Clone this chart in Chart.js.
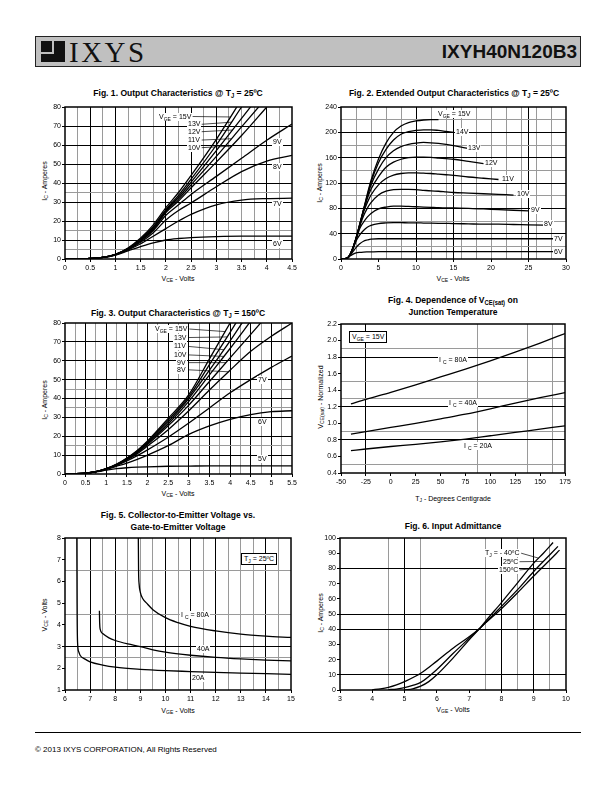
<!DOCTYPE html>
<html>
<head>
<meta charset="utf-8">
<script src="https://cdn.jsdelivr.net/npm/chart.js@4.4.1/dist/chart.umd.min.js"></script>
<style>
  html, body { margin: 0; padding: 0; background: #fff; }
  body { width: 612px; height: 792px; position: relative; overflow: hidden;
         font-family: 'Liberation Sans', Arial, sans-serif; color: #000; }
  .hdr { position: absolute; left: 35px; top: 36px; width: 544px; height: 29px;
         background: #c0c0c0; border: 1.5px solid #222; }
  .mark { position: absolute; left: 5px; top: 4px; width: 24px; height: 21px; background: #111; }
  .mark i { position: absolute; background: #c0c0c0; }
  .brand { position: absolute; left: 33px; top: 0px; font-family: 'Liberation Serif', 'DejaVu Serif', serif;
           font-size: 29px; line-height: 30px; letter-spacing: 2.5px; color: #111; }
  .part { position: absolute; right: 3px; top: 0; font-weight: bold; font-size: 19px; line-height: 30px; color: #111; }
  .ftitle { position: absolute; font-weight: bold; font-size: 9.5px; line-height: 12px; text-align: center;
            white-space: nowrap; transform: translateX(-50%) scaleX(0.9); }
  .atitle { position: absolute; font-size: 7px; white-space: nowrap; transform: translate(-50%, -50%); }
  .atitle.rot { transform: translate(-50%, -50%) rotate(-90deg); }
  sub { font-size: 5px; vertical-align: -1.5px; line-height: 0; }
  .ftitle sub { font-size: 6.5px; }
  .chart { position: absolute; }
  .chart canvas { position: absolute; left: 0; top: 0; }
  .note { position: absolute; font-size: 7px; line-height: 8px; white-space: nowrap; background: #fff; padding: 0 1px; color: #000; }
  .note.box { border: 1px solid #000; padding: 1px 2px; }
  .foot-line { position: absolute; left: 35px; top: 732px; width: 546px; height: 1px; background: #000; }
  .foot { position: absolute; left: 35px; top: 745px; font-size: 8px; white-space: nowrap; }
</style>
</head>
<body>

<div class="hdr">
  <div class="mark"><i style="left:0;top:11px;width:11px;height:2px"></i><i style="left:11px;top:0;width:2px;height:13px"></i></div>
  <div class="brand">IXYS</div>
  <div class="part">IXYH40N120B3</div>
</div>

<div class="ftitle" style="left:178px;top:87px">Fig. 1. Output Characteristics @ T<sub>J</sub> = 25ºC</div>
<div class="ftitle" style="left:454px;top:87px">Fig. 2. Extended Output Characteristics @ T<sub>J</sub> = 25ºC</div>
<div class="ftitle" style="left:178px;top:307px">Fig. 3. Output Characteristics @ T<sub>J</sub> = 150ºC</div>
<div class="ftitle" style="left:453px;top:294px">Fig. 4. Dependence of V<sub>CE(sat)</sub> on<br>Junction Temperature</div>
<div class="ftitle" style="left:178px;top:509px">Fig. 5. Collector-to-Emitter Voltage vs.<br>Gate-to-Emitter Voltage</div>
<div class="ftitle" style="left:453px;top:520px">Fig. 6. Input Admittance</div>

<div class="atitle" style="left:178px;top:278px">V<sub>CE</sub> - Volts</div>
<div class="atitle rot" style="left:44px;top:181px">I<sub>C</sub> - Amperes</div>
<div class="atitle" style="left:453px;top:278px">V<sub>CE</sub> - Volts</div>
<div class="atitle rot" style="left:319px;top:183px">I<sub>C</sub> - Amperes</div>
<div class="atitle" style="left:178px;top:493px">V<sub>CE</sub> - Volts</div>
<div class="atitle rot" style="left:44px;top:400px">I<sub>C</sub> - Amperes</div>
<div class="atitle" style="left:453px;top:498px">T<sub>J</sub> - Degrees Centigrade</div>
<div class="atitle rot" style="left:320px;top:397px">V<sub>CE(sat)</sub> - Normalized</div>
<div class="atitle" style="left:178px;top:710px">V<sub>GE</sub> - Volts</div>
<div class="atitle rot" style="left:44px;top:615px">V<sub>CE</sub> - Volts</div>
<div class="atitle" style="left:453px;top:709px">V<sub>GE</sub> - Volts</div>
<div class="atitle rot" style="left:320px;top:613px">I<sub>C</sub> - Amperes</div>

<div class="foot-line"></div>
<div class="foot">© 2013 IXYS CORPORATION, All Rights Reserved</div>

<script>
// ── Fig. 1 data: Output characteristics @ 25ºC ──
const fig1Vce = [0, 0.5, 0.75, 1, 1.25, 1.5, 1.75, 2, 2.25, 2.5, 3, 3.5, 4, 4.5];
const fig1Ic15 = [0, 0.3, 0.8, 2.4, 5.8, 11, 18, 27, 35, 44, 63, 84, null, null];
const fig1Ic13 = [0, 0.3, 0.8, 2.4, 5.6, 10.5, 17, 26, 33.5, 42, 60, 80, 100, null];
const fig1Ic12 = [0, 0.3, 0.8, 2.4, 5.5, 10.2, 16.5, 25.5, 32.5, 40.5, 57, 74, 91, null];
const fig1Ic11 = [0, 0.3, 0.8, 2.3, 5.4, 10, 16, 25, 31.5, 39, 54, 69.5, 85, null];
const fig1Ic10 = [0, 0.3, 0.8, 2.3, 5.3, 9.7, 15.5, 24.5, 30.5, 37.5, 51, 65, 80, null];
const fig1Ic9 = [0, 0.3, 0.8, 2.3, 5.2, 9.3, 15, 23, 28.5, 34, 43.5, 53, 62.5, 71];
const fig1Ic8 = [0, 0.3, 0.8, 2.2, 5, 8.8, 13.8, 20.5, 25.5, 29.5, 38, 46, 51.5, 54.5];
const fig1Ic7 = [0, 0.3, 0.8, 2.2, 4.8, 8, 12, 16, 20, 23.5, 28.5, 31, 31.8, 32];
const fig1Ic6 = [0, 0.3, 0.8, 2.1, 4.3, 6.5, 8.5, 10, 10.8, 11.3, 11.8, 12, 12, 12];
const fig1XTicks = [0, 0.5, 1, 1.5, 2, 2.5, 3, 3.5, 4, 4.5];
const fig1YTicks = [0, 10, 20, 30, 40, 50, 60, 70, 80];

// ── Fig. 2 data: Extended output characteristics @ 25ºC ──
const fig2Vce = [0, 0.5, 1, 1.5, 2, 2.5, 3, 3.5, 4, 5, 6, 7, 8, 9, 10, 11, 12, 13, 14, 15, 17, 19, 21, 23, 25, 27, 28.5];
const fig2Ic15 = [0, 0.5, 3, 15, 33, 55, 78, 102, 124, 158, 183, 200, 210, 215.5, 218, 219.5, 220, 220, null, null, null, null, null, null, null, null, null];
const fig2Ic14 = [0, 0.5, 3, 15, 33, 55, 77.5, 100, 121, 152, 173, 188, 197, 201, 203, 204, 204, 203, 201.5, 200, null, null, null, null, null, null, null];
const fig2Ic13 = [0, 0.5, 3, 15, 32.5, 54, 77, 98, 117, 142, 160, 171, 177.5, 181, 183, 184, 183.5, 182.5, 181, 179, 174.5, null, null, null, null, null, null];
const fig2Ic12 = [0, 0.5, 3, 14.5, 32, 53.5, 76, 95, 110, 130, 145, 153, 157.5, 160, 161, 161, 160.5, 159.5, 158.5, 157.5, 154, 150.5, null, null, null, null, null];
const fig2Ic11 = [0, 0.5, 3, 14.5, 31.5, 53, 74, 89, 101, 117, 127, 132.5, 135, 136, 136, 135.5, 135, 134, 133, 132, 129.5, 127.5, 125.5, null, null, null, null];
const fig2Ic10 = [0, 0.5, 3, 14, 31, 52, 68, 80, 89, 101, 107, 109.5, 110, 110, 109.5, 108.5, 107.5, 107, 106, 105, 104, 103, 102, 101, null, null, null];
const fig2Ic9 = [0, 0.5, 3, 13.5, 30, 48, 58, 66, 72, 79, 82, 83.5, 83.5, 83, 82.5, 82, 81.5, 81, 80.8, 80.5, 80, 79, 78, 77, 76, null, null];
const fig2Ic8 = [0, 0.5, 3, 12.5, 28, 38, 45, 50, 53, 56, 57, 57.5, 57.5, 57, 57, 56.8, 56.6, 56.4, 56.2, 56, 55.5, 55, 55, 54.5, 54, 53.5, null];
const fig2Ic7 = [0, 0.5, 3, 10, 18, 24, 28, 30, 31.5, 32, 32, 32, 32, 32, 32, 32, 32, 32, 32, 32, 32, 32, 32, 32, 32, 32, 32];
const fig2Ic6 = [0, 0.5, 3, 7, 9.5, 10.5, 11, 11.2, 11.3, 11.5, 11.5, 11.5, 11.5, 11.5, 11.5, 11.5, 11.5, 11.5, 11.5, 11.5, 11.5, 11.5, 11.5, 11.5, 11.5, 11.5, 11.5];
const fig2XTicks = [0, 5, 10, 15, 20, 25, 30];
const fig2YTicks = [0, 40, 80, 120, 160, 200, 240];

// ── Fig. 3 data: Output characteristics @ 150ºC ──
const fig3Vce = [0, 0.5, 0.75, 1, 1.25, 1.5, 1.75, 2, 2.5, 3, 3.5, 4, 4.5, 5, 5.5];
const fig3Ic15 = [0, 0.4, 1.2, 2.8, 5.2, 8.5, 12.5, 17.5, 29.5, 42, 61, 80, null, null, null];
const fig3Ic13 = [0, 0.4, 1.2, 2.8, 5.1, 8.3, 12.2, 17, 28.5, 41, 58, 75, 93, null, null];
const fig3Ic11 = [0, 0.4, 1.2, 2.8, 5, 8.1, 11.9, 16.6, 27.5, 40, 55, 70.5, 87, null, null];
const fig3Ic10 = [0, 0.4, 1.2, 2.7, 4.9, 7.9, 11.6, 16.2, 26.5, 38.5, 52.5, 66.5, 81, null, null];
const fig3Ic9 = [0, 0.4, 1.2, 2.7, 4.8, 7.7, 11.2, 15.6, 25.5, 36.5, 49, 61.5, 74, 86.5, null];
const fig3Ic8 = [0, 0.4, 1.2, 2.7, 4.7, 7.4, 10.7, 14.8, 23.5, 33.5, 44.5, 55, 65, 73, 80];
const fig3Ic7 = [0, 0.4, 1.2, 2.6, 4.5, 6.9, 9.7, 12.8, 19.5, 27, 35, 43, 50, 56.5, 62.5];
const fig3Ic6 = [0, 0.4, 1.2, 2.5, 4.1, 5.8, 7.8, 10, 15, 21, 25.5, 29, 31.5, 33, 33.5];
const fig3Ic5 = [0, 0.4, 1.1, 2, 2.8, 3.3, 3.6, 3.8, 4.1, 4.2, 4.3, 4.3, 4.3, 4.3, 4.3];
const fig3XTicks = [0, 0.5, 1, 1.5, 2, 2.5, 3, 3.5, 4, 4.5, 5, 5.5];
const fig3YTicks = [0, 10, 20, 30, 40, 50, 60, 70, 80];

// ── Fig. 4 data: VCE(sat) normalized vs junction temperature ──
const fig4Tj = [-40, -25, 0, 25, 50, 75, 100, 125, 150, 175];
const fig4Vce80 = [1.235, 1.29, 1.375, 1.465, 1.56, 1.655, 1.755, 1.86, 1.97, 2.085];
const fig4Vce40 = [0.87, 0.9, 0.95, 1.0, 1.055, 1.11, 1.175, 1.245, 1.31, 1.37];
const fig4Vce20 = [0.67, 0.69, 0.72, 0.745, 0.775, 0.81, 0.85, 0.89, 0.93, 0.97];
const fig4XTicks = [-50, -25, 0, 25, 50, 75, 100, 125, 150, 175];
const fig4YTicks = [0.4, 0.6, 0.8, 1.0, 1.2, 1.4, 1.6, 1.8, 2.0, 2.2];

// ── Fig. 5 data: VCE vs VGE @ 25ºC ──
const fig5Vge80 = [8.92, 8.93, 8.95, 9.0, 9.1, 9.25, 9.5, 10, 10.5, 11, 12, 13, 14, 15];
const fig5Vce80 = [8, 6.5, 5.9, 5.5, 5.2, 5.0, 4.7, 4.33, 4.1, 3.93, 3.72, 3.57, 3.48, 3.42];
const fig5Vge40 = [7.37, 7.38, 7.4, 7.5, 7.75, 8, 8.5, 9, 9.5, 10, 11, 12, 13, 14, 15];
const fig5Vce40 = [4.65, 4.1, 3.8, 3.6, 3.4, 3.28, 3.12, 3.0, 2.85, 2.74, 2.6, 2.5, 2.43, 2.38, 2.34];
const fig5Vge20 = [6.47, 6.48, 6.5, 6.55, 6.6, 6.8, 7, 7.5, 8, 9, 10, 11, 12, 13, 14, 15];
const fig5Vce20 = [8, 5, 3.2, 2.75, 2.6, 2.42, 2.3, 2.15, 2.05, 1.95, 1.89, 1.85, 1.81, 1.78, 1.75, 1.72];
const fig5XTicks = [6, 7, 8, 9, 10, 11, 12, 13, 14, 15];
const fig5YTicks = [1, 2, 3, 4, 5, 6, 7, 8];

// ── Fig. 6 data: Input admittance ──
const fig6VgeM40 = [5, 5.25, 5.5, 5.75, 6, 6.5, 7, 7.35, 7.5, 8, 8.5, 9, 9.3, 9.6];
const fig6IcM40 = [0, 0.8, 2.5, 5.5, 10, 21, 33, 41, 45, 57.5, 70.5, 83.5, 90, 97];
const fig6Vge25 = [4.5, 4.75, 5, 5.25, 5.5, 6, 6.5, 7, 7.35, 7.5, 8, 8.5, 9, 9.5, 9.75];
const fig6Ic25 = [0.2, 0.6, 1.5, 3, 5, 13.5, 24, 34, 41, 44, 55, 66, 78, 89, 94.5];
const fig6Vge150 = [4, 4.25, 4.5, 4.75, 5, 5.5, 6, 6.5, 7, 7.35, 7.5, 8, 8.5, 9, 9.5, 9.8];
const fig6Ic150 = [0.3, 0.8, 1.7, 3.3, 5.5, 11, 19, 27.5, 35, 41, 44, 53.5, 64, 75, 85.5, 92];
const fig6XTicks = [3, 4, 5, 6, 7, 8, 9, 10];
const fig6YTicks = [0, 10, 20, 30, 40, 50, 60, 70, 80, 90, 100];

// ── Helpers ──
const FONT = { family: "'Liberation Sans', Arial, sans-serif", size: 7 };
const near = (arr, v) => arr.some(u => Math.abs(u - v) < 1e-6);
const pts = (xs, ys) => xs.map((x, i) => ({ x, y: ys[i] })).filter(p => p.y !== null);

function interp(data, x) {
  for (let i = 1; i < data.length; i++) {
    const a = data[i - 1], b = data[i];
    if (x >= a.x && x <= b.x) return a.y + (b.y - a.y) * (x - a.x) / (b.x - a.x);
  }
  return data[data.length - 1].y;
}

function axis(o, isX) {
  const all = [...new Set([...o.labels, ...o.black, ...o.grey].map(v => +v.toFixed(4)))].sort((a, b) => a - b);
  return {
    type: 'linear', min: o.min, max: o.max,
    afterBuildTicks: s => { s.ticks = all.map(v => ({ value: v })); },
    border: { display: false },
    grid: {
      color: c => near(o.black, c.tick.value) ? '#000' : near(o.grey, c.tick.value) ? '#9a9a9a' : 'rgba(0,0,0,0)',
      tickColor: c => near(o.labels, c.tick.value) ? '#000' : 'rgba(0,0,0,0)',
      tickLength: 3, lineWidth: 1,
    },
    ticks: {
      autoSkip: false, maxRotation: 0, padding: isX ? 2 : 1, font: FONT, color: '#000',
      callback: v => near(o.labels, v) ? (o.fmt ? o.fmt(v) : String(+v.toFixed(2))) : '',
    },
  };
}

// frame, leader lines and DOM labels placed through the scales
const notesPlugin = {
  id: 'notes',
  afterDraw(chart, args, opts) {
    const { ctx, chartArea: a, scales: { x, y } } = chart;
    const items = opts.items || [];
    ctx.save();
    ctx.strokeStyle = '#000';
    ctx.lineWidth = 1.5;
    ctx.strokeRect(a.left, a.top, a.right - a.left, a.bottom - a.top);
    ctx.lineWidth = 0.7;
    items.forEach(n => {
      if (!n.lead) return;
      const data = chart.data.datasets[n.lead.ds].data;
      ctx.beginPath();
      ctx.moveTo(x.getPixelForValue(n.x) + 1, y.getPixelForValue(n.y));
      ctx.lineTo(x.getPixelForValue(n.lead.x), y.getPixelForValue(interp(data, n.lead.x)));
      ctx.stroke();
    });
    ctx.restore();

    const wrap = chart.canvas.parentNode;
    items.forEach((n, i) => {
      let el = wrap.querySelector('[data-note="' + i + '"]');
      if (!el) {
        el = document.createElement('div');
        el.className = 'note' + (n.box ? ' box' : '');
        el.dataset.note = i;
        el.innerHTML = n.html;
        wrap.appendChild(el);
      }
      const w = el.offsetWidth, h = el.offsetHeight;
      const px = x.getPixelForValue(n.x), py = y.getPixelForValue(n.y);
      el.style.left = Math.round(n.align === 'right' ? px - w : px - w / 2) + 'px';
      el.style.top = Math.round(py - h / 2) + 'px';
    });
  }
};

function makeChart(cfg) {
  const [bl, bt, bw, bh] = cfg.box;
  const [pl, pt, pr, pb] = cfg.plot;
  const wrap = document.createElement('div');
  wrap.className = 'chart';
  Object.assign(wrap.style, { left: bl + 'px', top: bt + 'px', width: bw + 'px', height: bh + 'px' });
  const canvas = document.createElement('canvas');
  canvas.width = bw;
  canvas.height = bh;
  wrap.appendChild(canvas);
  document.body.appendChild(wrap);

  const x = axis(cfg.x, true);
  x.afterFit = s => { s.height = bt + bh - pb; };
  const y = axis(cfg.y, false);
  y.afterFit = s => { s.width = pl - bl; };

  new Chart(canvas, {
    type: 'line',
    data: {
      datasets: cfg.series.map(s => ({
        data: s, borderColor: '#000', borderWidth: 1.3, pointRadius: 0,
        cubicInterpolationMode: 'monotone', fill: false,
      })),
    },
    options: {
      responsive: false, animation: false, devicePixelRatio: 1, events: [],
      layout: { padding: { top: pt - bt, right: bl + bw - pr, left: 0, bottom: 0 } },
      plugins: { legend: { display: false }, tooltip: { enabled: false }, notes: { items: cfg.notes } },
      scales: { x, y },
    },
    plugins: [notesPlugin],
  });
}

const quarters = (a, b) => { const r = []; for (let v = a; v <= b + 1e-9; v += 0.25) r.push(+v.toFixed(2)); return r; };

// ── Fig. 1 ──
makeChart({
  box: [20, 100, 285, 190], plot: [65, 107, 292, 259],
  x: { min: 0, max: 4.5, labels: fig1XTicks, black: [0.5, 1, 2, 2.5, 3, 4],
       grey: quarters(0.25, 4.25).filter(v => !near([0.5, 1, 2, 2.5, 3, 4], v)) },
  y: { min: 0, max: 80, labels: fig1YTicks, black: [10, 20, 30, 40, 50, 60, 70], grey: [5, 15, 35] },
  series: [fig1Ic15, fig1Ic13, fig1Ic12, fig1Ic11, fig1Ic10, fig1Ic9, fig1Ic8, fig1Ic7, fig1Ic6].map(s => pts(fig1Vce, s)),
  notes: [
    { html: 'V<sub>GE</sub> = 15V', x: 2.51, y: 75, align: 'right', lead: { ds: 0, x: 3.28 } },
    { html: '13V', x: 2.69, y: 70.9, align: 'right', lead: { ds: 1, x: 3.3 } },
    { html: '12V', x: 2.69, y: 67, align: 'right', lead: { ds: 2, x: 3.32 } },
    { html: '11V', x: 2.69, y: 62.6, align: 'right', lead: { ds: 3, x: 3.3 } },
    { html: '10V', x: 2.69, y: 58.6, align: 'right', lead: { ds: 4, x: 3.3 } },
    { html: '9V', x: 4.21, y: 61.6 },
    { html: '8V', x: 4.21, y: 48.3 },
    { html: '7V', x: 4.21, y: 28.9 },
    { html: '6V', x: 4.21, y: 7.9 },
  ],
});

// ── Fig. 2 ──
makeChart({
  box: [300, 100, 280, 190], plot: [341, 107, 566, 259],
  x: { min: 0, max: 30, labels: fig2XTicks, black: [10, 15, 25],
       grey: [2, 4, 6, 8, 12, 14, 16, 18, 20, 22, 24, 26, 28] },
  y: { min: 0, max: 240, labels: fig2YTicks, black: [40, 80, 120, 160, 200], grey: [20, 60, 100, 140, 180, 220] },
  series: [fig2Ic15, fig2Ic14, fig2Ic13, fig2Ic12, fig2Ic11, fig2Ic10, fig2Ic9, fig2Ic8, fig2Ic7, fig2Ic6].map(s => pts(fig2Vce, s)),
  notes: [
    { html: 'V<sub>GE</sub> = 15V', x: 15.1, y: 229.6 },
    { html: '14V', x: 16.1, y: 200.6 },
    { html: '13V', x: 17.7, y: 175.4 },
    { html: '12V', x: 20.0, y: 150.8 },
    { html: '11V', x: 22.3, y: 125.6 },
    { html: '10V', x: 24.3, y: 102 },
    { html: '9V', x: 25.9, y: 77.2 },
    { html: '8V', x: 27.7, y: 55 },
    { html: '7V', x: 29.0, y: 31.5 },
    { html: '6V', x: 29.0, y: 11.5 },
  ],
});

// ── Fig. 3 ──
makeChart({
  box: [20, 316, 285, 190], plot: [65, 323, 292, 474],
  x: { min: 0, max: 5.5, labels: fig3XTicks, black: [0.5, 1, 1.5, 2, 2.5, 3, 3.5, 4, 4.5, 5],
       grey: quarters(0.25, 5.25).filter(v => Math.abs(v * 2 - Math.round(v * 2)) > 1e-6) },
  y: { min: 0, max: 80, labels: fig3YTicks, black: [10, 20, 30, 40, 50, 60, 70], grey: [15, 35, 45] },
  series: [fig3Ic15, fig3Ic13, fig3Ic11, fig3Ic10, fig3Ic9, fig3Ic8, fig3Ic7, fig3Ic6, fig3Ic5].map(s => pts(fig3Vce, s)),
  notes: [
    { html: 'V<sub>GE</sub> = 15V', x: 2.99, y: 76.8, align: 'right', lead: { ds: 0, x: 3.88 } },
    { html: '13V', x: 2.96, y: 72.3, align: 'right', lead: { ds: 1, x: 3.93 } },
    { html: '11V', x: 2.96, y: 67.6, align: 'right', lead: { ds: 2, x: 3.85 } },
    { html: '10V', x: 2.96, y: 63.1, align: 'right', lead: { ds: 3, x: 3.85 } },
    { html: '9V', x: 2.96, y: 59, align: 'right', lead: { ds: 4, x: 3.9 } },
    { html: '8V', x: 2.96, y: 55.2, align: 'right', lead: { ds: 5, x: 3.96 } },
    { html: '7V', x: 4.79, y: 49.8 },
    { html: '6V', x: 4.79, y: 27.7 },
    { html: '5V', x: 4.79, y: 8.2 },
  ],
});

// ── Fig. 4 ──
makeChart({
  box: [300, 316, 280, 190], plot: [341, 324, 565, 473],
  x: { min: -50, max: 175, labels: fig4XTicks, black: [-25], grey: [87.5, 137.5, 162.5] },
  y: { min: 0.4, max: 2.2, labels: fig4YTicks, black: [0.8, 1.2, 1.8], grey: [0.5, 0.9, 1.3, 1.5, 1.9],
       fmt: v => v.toFixed(1) },
  series: [pts(fig4Tj, fig4Vce80), pts(fig4Tj, fig4Vce40), pts(fig4Tj, fig4Vce20)],
  notes: [
    { html: 'V<sub>GE</sub> = 15V', x: -22.9, y: 2.046, box: true },
    { html: 'I <sub>C</sub> = 80A', x: 62.6, y: 1.76 },
    { html: 'I <sub>C</sub> = 40A', x: 72.7, y: 1.244 },
    { html: 'I <sub>C</sub> = 20A', x: 87.7, y: 0.727 },
  ],
});

// ── Fig. 5 ──
makeChart({
  box: [20, 530, 285, 190], plot: [65, 538, 291, 690],
  x: { min: 6, max: 15, labels: fig5XTicks, black: [7, 8, 10, 11, 12, 14],
       grey: [6.5, 7.5, 8.5, 9, 9.5, 10.5, 11.5, 12.5, 13, 13.5, 14.5] },
  y: { min: 1, max: 8, labels: fig5YTicks, black: [3], grey: [2.5, 4.5, 6.5] },
  series: [pts(fig5Vge80, fig5Vce80), pts(fig5Vge40, fig5Vce40), pts(fig5Vge20, fig5Vce20)],
  notes: [
    { html: 'T<sub>J</sub> = 25ºC', x: 13.72, y: 7.05, box: true },
    { html: 'I <sub>C</sub> = 80A', x: 11.17, y: 4.46 },
    { html: '40A', x: 11.48, y: 2.89 },
    { html: '20A', x: 11.31, y: 1.54 },
  ],
});

// ── Fig. 6 ──
makeChart({
  box: [300, 530, 280, 190], plot: [340, 538, 566, 690],
  x: { min: 3, max: 10, labels: fig6XTicks, black: [5, 8, 9], grey: [4.5, 5.5, 7.5, 8.5, 9.5] },
  y: { min: 0, max: 100, labels: fig6YTicks, black: [10, 40, 50, 80], grey: [] },
  series: [pts(fig6VgeM40, fig6IcM40), pts(fig6Vge25, fig6Ic25), pts(fig6Vge150, fig6Ic150)],
  notes: [
    { html: 'T<sub>J</sub> = - 40ºC', x: 8.58, y: 90, align: 'right', lead: { ds: 0, x: 9.15 } },
    { html: '25ºC', x: 8.53, y: 84.4, align: 'right', lead: { ds: 1, x: 9.3 } },
    { html: '150ºC', x: 8.53, y: 79, align: 'right', lead: { ds: 2, x: 9.25 } },
  ],
});
</script>
</body>
</html>
